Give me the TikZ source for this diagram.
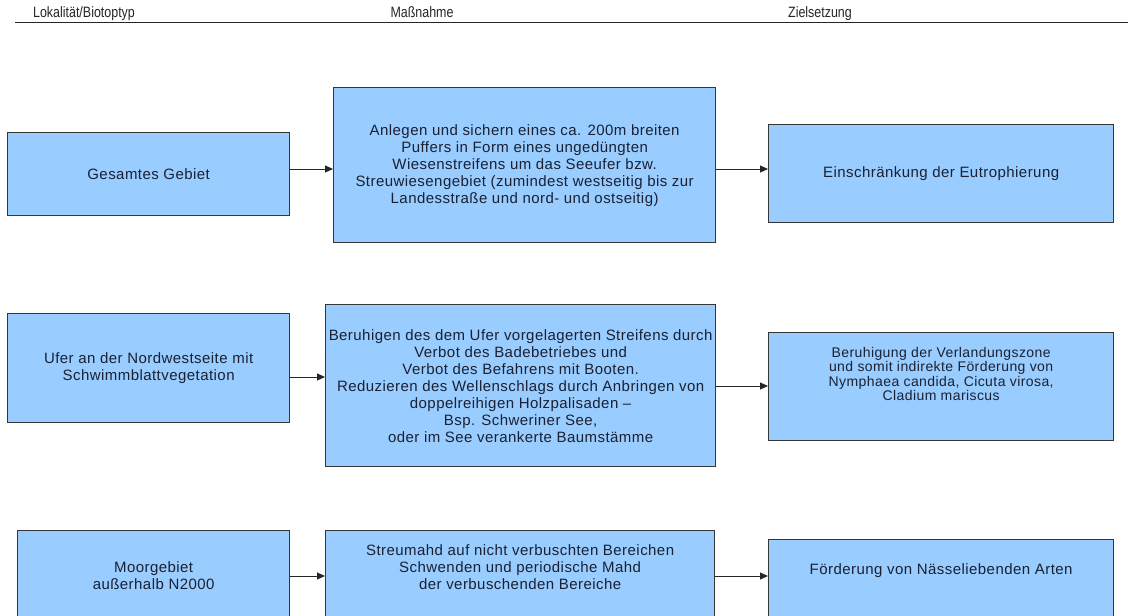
\documentclass[tikz,border=0pt]{standalone}
\usepackage{fontspec}
\setmainfont{Liberation Sans}[LetterSpace=3]
\newfontfamily\headfont{Liberation Sans}[FakeStretch=0.83]
\usetikzlibrary{arrows.meta}

\definecolor{boxfill}{HTML}{99CCFF}
\definecolor{boxline}{HTML}{363636}
\definecolor{txtcol}{HTML}{1A2133}

\begin{document}
\begin{tikzpicture}[x=1pt,y=-1pt,
  font=\fontsize{15}{17}\selectfont,
  hdr/.style={inner sep=0pt, anchor=base, text=black!85,
    font=\headfont\fontsize{15}{17}\selectfont},
  box/.style={draw=boxline, line width=1.3pt, fill=boxfill, anchor=north west,
    inner sep=0pt, align=center, text=txtcol},
  boxtext/.style={inner sep=0pt, align=center, text=txtcol},
  link/.style={draw=black!85, line width=1pt, -{Triangle[length=8pt,width=7pt]}}]

\clip (0,0) rectangle (1128,616);
\fill[white] (0,0) rectangle (1128,616);

% column headings and rule
\node[hdr] (h1) at (84,17.5) {Lokalität/Biotoptyp};
\node[hdr] (h2) at (422,17.5) {Maßnahme};
\node[hdr] (h3) at (820,17.5) {Zielsetzung};
\coordinate (ruleL) at (15,22.5);
\coordinate (ruleR) at (1128,22.5);
\draw[black!85, line width=1.1pt] (ruleL) -- (ruleR);

% row 1
\node[box, minimum width=282pt, minimum height=83pt] (a1) at (7,132) {Gesamtes Gebiet};
\node[box, minimum width=382pt, minimum height=155pt] (b1) at (333,87)
  {Anlegen und sichern eines ca. 200m breiten\\
   Puffers in Form eines ungedüngten\\
   Wiesenstreifens um das Seeufer bzw.\\
   Streuwiesengebiet (zumindest westseitig bis zur\\
   Landesstraße und nord- und ostseitig)};
\node[box, minimum width=345pt, minimum height=98pt] (c1) at (768,124) {Einschränkung der Eutrophierung};
\draw[link] (a1.east |- 0,169) -- (b1.west |- 0,169);
\draw[link] (b1.east |- 0,169) -- (c1.west |- 0,169);

% row 2
\node[box, minimum width=282pt, minimum height=109pt] (a2) at (7,313)
  {Ufer an der Nordwestseite mit\\ Schwimmblattvegetation};
\node[box, minimum width=390pt, minimum height=162pt] (b2) at (325,304)
  {Beruhigen des dem Ufer vorgelagerten Streifens durch\\
   Verbot des Badebetriebes und\\
   Verbot des Befahrens mit Booten.\\
   Reduzieren des Wellenschlags durch Anbringen von\\
   doppelreihigen Holzpalisaden --\\
   Bsp. Schweriner See,\\
   oder im See verankerte Baumstämme};
\node[box, minimum width=345pt, minimum height=108pt] (c2) at (768,332) {};
\node[boxtext, font=\fontsize{14}{14.3}\selectfont] (c2t) at (c2.center |- 0,374)
  {Beruhigung der Verlandungszone\\
   und somit indirekte Förderung von\\
   Nymphaea candida, Cicuta virosa,\\
   Cladium mariscus};
\draw[link] (a2.east |- 0,377) -- (b2.west |- 0,377);
\draw[link] (b2.east |- 0,386) -- (c2.west |- 0,386);

% row 3 (runs past the lower edge)
\node[box, minimum width=272pt, minimum height=110pt] (a3) at (17,530) {};
\node[boxtext] (a3t) at (a3.center |- 0,576) {Moorgebiet\\ außerhalb N2000};
\node[box, minimum width=389pt, minimum height=110pt] (b3) at (325,530) {};
\node[boxtext] (b3t) at (b3.center |- 0,567)
  {Streumahd auf nicht verbuschten Bereichen\\
   Schwenden und periodische Mahd\\
   der verbuschenden Bereiche};
\node[box, minimum width=345pt, minimum height=100pt] (c3) at (768,539) {};
\node[boxtext] (c3t) at (c3.center |- 0,571) {Förderung von Nässeliebenden Arten};
\draw[link] (a3.east |- 0,576) -- (b3.west |- 0,576);
\draw[link] (b3.east |- 0,576) -- (c3.west |- 0,576);
\end{tikzpicture}
\end{document}
